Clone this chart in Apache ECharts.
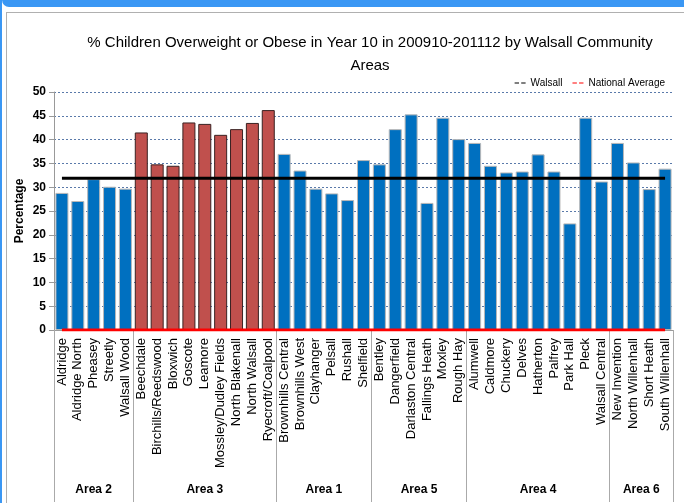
<!DOCTYPE html>
<html>
<head>
<meta charset="utf-8">
<script src="https://cdn.jsdelivr.net/npm/echarts@6/dist/echarts.min.js"></script>
<style>
  body { margin: 0; background: #fff; }
  #wrap { position: relative; width: 684px; height: 503px; overflow: hidden; }
  #topbar { position: absolute; left: 2px; top: 0; width: 700px; height: 7px; background: #3a97f4; border-bottom-left-radius: 7px; }
  #leftbar { position: absolute; left: 0; top: 0; width: 2px; height: 503px; background: #3a97f4; }
  #frame { position: absolute; left: 6px; top: 12px; width: 700px; height: 500px; border: 1px solid #b0b0b0; }
  #line-graph { position: absolute; left: 0; top: 0; width: 684px; height: 503px; }
</style>
</head>
<body>
<div id="wrap">
  <div id="topbar"></div>
  <div id="leftbar"></div>
  <div id="frame"></div>
  <div id="line-graph"></div>
</div>
<script>
// community areas, in the order they appear on the axis
var categories = [
  'Aldridge', 'Aldridge North', 'Pheasey', 'Streetly', 'Walsall Wood',
  'Beechdale', 'Birchills/Reedswood', 'Bloxwich', 'Goscote', 'Leamore',
  'Mossley/Dudley Fields', 'North Blakenall', 'North Walsall', 'Ryecroft/Coalpool',
  'Brownhills Central', 'Brownhills West', 'Clayhanger', 'Pelsall', 'Rushall', 'Shelfield',
  'Bentley', 'Dangerfield', 'Darlaston Central', 'Fallings Heath', 'Moxley', 'Rough Hay',
  'Alumwell', 'Caldmore', 'Chuckery', 'Delves', 'Hatherton', 'Palfrey', 'Park Hall',
  'Pleck', 'Walsall Central',
  'New Invention', 'North Willenhall', 'Short Heath', 'South Willenhall'
];
var areaNames = ['Area 2', 'Area 3', 'Area 1', 'Area 5', 'Area 4', 'Area 6'];
var areaSizes = [5, 9, 6, 6, 9, 4];
var highlightArea = 'Area 3';

var percentages = [
  28.8, 27.1, 31.7, 30.1, 29.7,
  41.5, 34.8, 34.5, 43.6, 43.3, 41.0, 42.2, 43.5, 46.2,
  37.0, 33.5, 29.7, 28.7, 27.3, 35.7,
  34.8, 42.2, 45.3, 26.7, 44.6, 40.1,
  39.3, 34.5, 33.1, 33.3, 36.9, 33.3, 22.4, 44.6, 31.2,
  39.3, 35.2, 29.6, 33.9
];
var walsallAverage = 31.9;
var nationalAverage = 0;
var yTicks = [0, 5, 10, 15, 20, 25, 30, 35, 40, 45, 50];

var FONT = "'Liberation Sans', Arial, sans-serif";

// which area each category belongs to, plus group boundaries / centres
var areaOf = [];
var bounds = [0];
var centres = {};
areaSizes.forEach(function (n, i) {
  var start = bounds[bounds.length - 1];
  for (var k = 0; k < n; k++) areaOf.push(areaNames[i]);
  bounds.push(start + n);
  centres[start + n / 2] = areaNames[i];
});

var barData = percentages.map(function (v, i) {
  var hot = areaOf[i] === highlightArea;
  return {
    value: v,
    itemStyle: hot
      ? { color: '#c0504d', borderColor: '#3a2222', borderWidth: 1 }
      : { color: '#0070c0', borderColor: '#b8b8b8', borderWidth: 1 }
  };
});

var myChart = echarts.init(document.getElementById('line-graph'));

var option = {
  backgroundColor: 'transparent',
  animation: false,
  textStyle: { fontFamily: FONT },
  title: {
    text: '% Children Overweight or Obese in Year 10 in 200910-201112 by Walsall Community\nAreas',
    left: 365,
    textAlign: 'center',
    top: 26,
    textStyle: { fontFamily: FONT, fontSize: 15, fontWeight: 'normal', color: '#000', lineHeight: 23 }
  },
  legend: {
    right: 14,
    top: 73,
    itemWidth: 11,
    itemHeight: 2,
    itemGap: 10,
    textStyle: { fontFamily: FONT, fontSize: 10, color: '#000' },
    data: [
      { name: 'Walsall', icon: 'path://M0,0h4v1h-4z M6,0h4v1h-4z' },
      { name: 'National Average', icon: 'path://M0,0h4v1h-4z M6,0h4v1h-4z' }
    ]
  },
  grid: { left: 54, right: 11, top: 92, bottom: 173, containLabel: false },
  xAxis: [
    {
      type: 'category',
      data: categories,
      axisLine: { lineStyle: { color: '#999', width: 1 } },
      axisTick: { length: 143, lineStyle: { color: '#c8c8c8' } },
      axisLabel: {
        interval: 0, rotate: 90, margin: 8,
        fontFamily: FONT, fontSize: 13, color: '#000'
      }
    },
    {
      type: 'value',
      position: 'bottom',
      min: 0,
      max: categories.length,
      splitLine: { show: false },
      axisLine: { show: false },
      axisTick: { show: true, length: 172, customValues: bounds, lineStyle: { color: '#aaa' } },
      axisLabel: {
        margin: 154,
        customValues: Object.keys(centres).map(Number),
        formatter: function (v) { return centres[v] || ''; },
        fontFamily: FONT, fontSize: 12, fontWeight: 'bold', color: '#000'
      }
    }
  ],
  yAxis: {
    type: 'value',
    min: yTicks[0],
    max: yTicks[yTicks.length - 1],
    interval: yTicks[1] - yTicks[0],
    name: 'Percentage',
    nameLocation: 'middle',
    nameGap: 28,
    nameMoveOverlap: false,
    nameTextStyle: { fontFamily: FONT, fontSize: 12, fontWeight: 'bold', color: '#000' },
    axisLine: { show: true, lineStyle: { color: '#999' } },
    axisTick: { show: true, length: 5, lineStyle: { color: '#999' } },
    axisLabel: { fontFamily: FONT, fontSize: 12, fontWeight: 'bold', color: '#000', margin: 8 },
    splitLine: { lineStyle: { color: '#5a7aaa', type: [2, 2], width: 1 } }
  },
  series: [
    {
      name: 'Percentage',
      type: 'bar',
      barCategoryGap: '18%',
      data: barData,
      z: 2
    },
    {
      name: 'Walsall',
      type: 'line',
      data: categories.map(function () { return walsallAverage; }),
      symbol: 'none',
      lineStyle: { color: '#000', width: 3 },
      itemStyle: { color: '#000' },
      z: 3
    },
    {
      name: 'National Average',
      type: 'line',
      data: categories.map(function () { return nationalAverage; }),
      symbol: 'none',
      lineStyle: { color: '#ff0000', width: 3 },
      itemStyle: { color: '#ff0000' },
      z: 3
    }
  ]
};

myChart.setOption(option);
</script>
</body>
</html>
